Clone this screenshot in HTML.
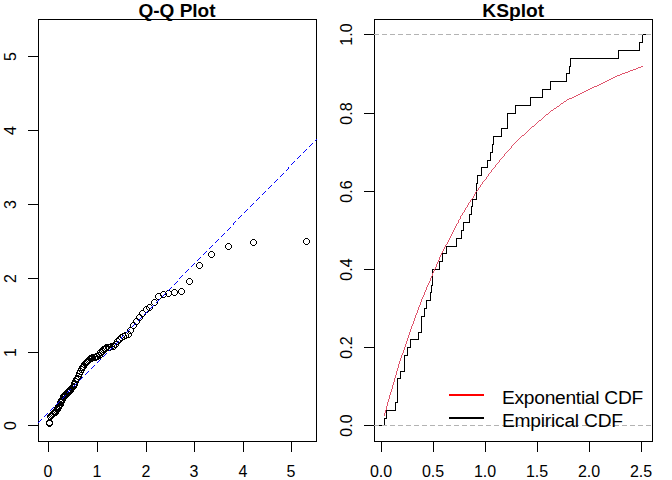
<!DOCTYPE html>
<html><head><meta charset="utf-8"><title>Q-Q Plot / KSplot</title>
<style>html,body{margin:0;padding:0;background:#fff;}svg{display:block;}text{fill:#000;}</style>
</head><body>
<svg width="672" height="480" viewBox="0 0 672 480">
<rect width="672" height="480" fill="#fff"/>
<g shape-rendering="crispEdges">
<rect x="38.5" y="19.5" width="278.0" height="422.0" fill="none" stroke="#000" stroke-width="1"/>
<line x1="48.5" y1="441.5" x2="48.5" y2="451.5" stroke="#000" stroke-width="1" />
<text x="47.9" y="476.5" font-size="16" text-anchor="middle" font-family="Liberation Sans, Arial, sans-serif">0</text>
<line x1="97.5" y1="441.5" x2="97.5" y2="451.5" stroke="#000" stroke-width="1" />
<text x="96.9" y="476.5" font-size="16" text-anchor="middle" font-family="Liberation Sans, Arial, sans-serif">1</text>
<line x1="146.5" y1="441.5" x2="146.5" y2="451.5" stroke="#000" stroke-width="1" />
<text x="145.9" y="476.5" font-size="16" text-anchor="middle" font-family="Liberation Sans, Arial, sans-serif">2</text>
<line x1="194.5" y1="441.5" x2="194.5" y2="451.5" stroke="#000" stroke-width="1" />
<text x="193.9" y="476.5" font-size="16" text-anchor="middle" font-family="Liberation Sans, Arial, sans-serif">3</text>
<line x1="243.5" y1="441.5" x2="243.5" y2="451.5" stroke="#000" stroke-width="1" />
<text x="242.9" y="476.5" font-size="16" text-anchor="middle" font-family="Liberation Sans, Arial, sans-serif">4</text>
<line x1="291.5" y1="441.5" x2="291.5" y2="451.5" stroke="#000" stroke-width="1" />
<text x="290.9" y="476.5" font-size="16" text-anchor="middle" font-family="Liberation Sans, Arial, sans-serif">5</text>
<line x1="28" y1="425.5" x2="38.5" y2="425.5" stroke="#000" stroke-width="1" />
<text transform="translate(15.5,425.5) rotate(-90)" font-size="16" text-anchor="middle" font-family="Liberation Sans, Arial, sans-serif">0</text>
<line x1="28" y1="352.5" x2="38.5" y2="352.5" stroke="#000" stroke-width="1" />
<text transform="translate(15.5,352.5) rotate(-90)" font-size="16" text-anchor="middle" font-family="Liberation Sans, Arial, sans-serif">1</text>
<line x1="28" y1="278.5" x2="38.5" y2="278.5" stroke="#000" stroke-width="1" />
<text transform="translate(15.5,278.5) rotate(-90)" font-size="16" text-anchor="middle" font-family="Liberation Sans, Arial, sans-serif">2</text>
<line x1="28" y1="204.5" x2="38.5" y2="204.5" stroke="#000" stroke-width="1" />
<text transform="translate(15.5,204.5) rotate(-90)" font-size="16" text-anchor="middle" font-family="Liberation Sans, Arial, sans-serif">3</text>
<line x1="28" y1="130.5" x2="38.5" y2="130.5" stroke="#000" stroke-width="1" />
<text transform="translate(15.5,130.5) rotate(-90)" font-size="16" text-anchor="middle" font-family="Liberation Sans, Arial, sans-serif">4</text>
<line x1="28" y1="56.5" x2="38.5" y2="56.5" stroke="#000" stroke-width="1" />
<text transform="translate(15.5,56.5) rotate(-90)" font-size="16" text-anchor="middle" font-family="Liberation Sans, Arial, sans-serif">5</text>
<text x="177" y="17.2" font-size="19" font-weight="bold" text-anchor="middle" font-family="Liberation Sans, Arial, sans-serif">Q-Q Plot</text>
<defs><path id="c" d="M-1.5-3.5h3v1h-3z M-1.5 2.5h3v1h-3z M-3.5-1.5h1v3h-1z M2.5-1.5h1v3h-1z M-2.5-2.5h1v1h-1z M1.5-2.5h1v1h-1z M-2.5 1.5h1v1h-1z M1.5 1.5h1v1h-1z"/></defs>
<g fill="#000" stroke="none">
<use href="#c" x="49.5" y="423.5"/>
<use href="#c" x="49.5" y="422.5"/>
<use href="#c" x="50.5" y="416.5"/>
<use href="#c" x="50.5" y="416.5"/>
<use href="#c" x="51.5" y="415.5"/>
<use href="#c" x="51.5" y="415.5"/>
<use href="#c" x="52.5" y="414.5"/>
<use href="#c" x="52.5" y="414.5"/>
<use href="#c" x="53.5" y="413.5"/>
<use href="#c" x="53.5" y="413.5"/>
<use href="#c" x="54.5" y="412.5"/>
<use href="#c" x="54.5" y="412.5"/>
<use href="#c" x="55.5" y="412.5"/>
<use href="#c" x="55.5" y="411.5"/>
<use href="#c" x="56.5" y="410.5"/>
<use href="#c" x="57.5" y="409.5"/>
<use href="#c" x="57.5" y="408.5"/>
<use href="#c" x="58.5" y="407.5"/>
<use href="#c" x="58.5" y="406.5"/>
<use href="#c" x="59.5" y="405.5"/>
<use href="#c" x="60.5" y="404.5"/>
<use href="#c" x="60.5" y="402.5"/>
<use href="#c" x="61.5" y="401.5"/>
<use href="#c" x="61.5" y="400.5"/>
<use href="#c" x="62.5" y="399.5"/>
<use href="#c" x="63.5" y="397.5"/>
<use href="#c" x="63.5" y="396.5"/>
<use href="#c" x="64.5" y="395.5"/>
<use href="#c" x="65.5" y="395.5"/>
<use href="#c" x="65.5" y="394.5"/>
<use href="#c" x="66.5" y="393.5"/>
<use href="#c" x="67.5" y="392.5"/>
<use href="#c" x="68.5" y="392.5"/>
<use href="#c" x="68.5" y="391.5"/>
<use href="#c" x="69.5" y="391.5"/>
<use href="#c" x="70.5" y="390.5"/>
<use href="#c" x="70.5" y="389.5"/>
<use href="#c" x="71.5" y="388.5"/>
<use href="#c" x="72.5" y="387.5"/>
<use href="#c" x="73.5" y="386.5"/>
<use href="#c" x="74.5" y="384.5"/>
<use href="#c" x="74.5" y="383.5"/>
<use href="#c" x="75.5" y="381.5"/>
<use href="#c" x="76.5" y="379.5"/>
<use href="#c" x="77.5" y="378.5"/>
<use href="#c" x="78.5" y="376.5"/>
<use href="#c" x="79.5" y="373.5"/>
<use href="#c" x="80.5" y="371.5"/>
<use href="#c" x="81.5" y="369.5"/>
<use href="#c" x="82.5" y="367.5"/>
<use href="#c" x="83.5" y="366.5"/>
<use href="#c" x="84.5" y="364.5"/>
<use href="#c" x="85.5" y="363.5"/>
<use href="#c" x="86.5" y="362.5"/>
<use href="#c" x="87.5" y="361.5"/>
<use href="#c" x="88.5" y="360.5"/>
<use href="#c" x="89.5" y="359.5"/>
<use href="#c" x="90.5" y="358.5"/>
<use href="#c" x="91.5" y="358.5"/>
<use href="#c" x="92.5" y="357.5"/>
<use href="#c" x="94.5" y="357.5"/>
<use href="#c" x="95.5" y="357.5"/>
<use href="#c" x="96.5" y="356.5"/>
<use href="#c" x="97.5" y="356.5"/>
<use href="#c" x="99.5" y="355.5"/>
<use href="#c" x="100.5" y="352.5"/>
<use href="#c" x="102.5" y="351.5"/>
<use href="#c" x="103.5" y="349.5"/>
<use href="#c" x="105.5" y="348.5"/>
<use href="#c" x="106.5" y="347.5"/>
<use href="#c" x="108.5" y="347.5"/>
<use href="#c" x="109.5" y="347.5"/>
<use href="#c" x="111.5" y="346.5"/>
<use href="#c" x="113.5" y="346.5"/>
<use href="#c" x="115.5" y="344.5"/>
<use href="#c" x="117.5" y="341.5"/>
<use href="#c" x="119.5" y="339.5"/>
<use href="#c" x="121.5" y="337.5"/>
<use href="#c" x="123.5" y="336.5"/>
<use href="#c" x="125.5" y="335.5"/>
<use href="#c" x="128.5" y="334.5"/>
<use href="#c" x="130.5" y="330.5"/>
<use href="#c" x="133.5" y="325.5"/>
<use href="#c" x="136.5" y="321.5"/>
<use href="#c" x="139.5" y="317.5"/>
<use href="#c" x="142.5" y="313.5"/>
<use href="#c" x="146.5" y="309.5"/>
<use href="#c" x="149.5" y="307.5"/>
<use href="#c" x="154.5" y="302.5"/>
<use href="#c" x="158.5" y="296.5"/>
<use href="#c" x="163.5" y="294.5"/>
<use href="#c" x="168.5" y="293.5"/>
<use href="#c" x="174.5" y="292.5"/>
<use href="#c" x="181.5" y="291.5"/>
<use href="#c" x="189.5" y="281.5"/>
<use href="#c" x="199.5" y="265.5"/>
<use href="#c" x="211.5" y="254.5"/>
<use href="#c" x="228.5" y="246.5"/>
<use href="#c" x="253.5" y="242.5"/>
<use href="#c" x="306.5" y="241.5"/>
</g>
<path fill="#0000FF" d="M38 422h1v1h-1zM39 421h1v1h-1zM40 420h1v1h-1zM41 419h1v1h-1zM44 416h1v1h-1zM45 415h1v1h-1zM46 414h1v1h-1zM47 413h1v1h-1zM50 410h1v1h-1zM51 409h1v1h-1zM52 408h1v1h-1zM53 407h1v1h-1zM56 404h1v1h-1zM57 403h1v1h-1zM58 402h1v1h-1zM59 401h1v1h-1zM62 398h1v1h-1zM63 397h1v1h-1zM64 396h1v1h-1zM65 395h1v1h-1zM67 392h1v1h-1zM68 391h1v1h-1zM69 390h1v1h-1zM70 389h1v1h-1zM73 386h1v1h-1zM74 385h1v1h-1zM75 384h1v1h-1zM76 383h1v1h-1zM79 380h1v1h-1zM80 379h1v1h-1zM81 378h1v1h-1zM82 377h1v1h-1zM85 374h1v1h-1zM86 373h1v1h-1zM87 372h1v1h-1zM88 371h1v1h-1zM91 368h1v1h-1zM92 367h1v1h-1zM93 366h1v1h-1zM94 365h1v1h-1zM97 362h1v1h-1zM98 361h1v1h-1zM99 360h1v1h-1zM100 359h1v1h-1zM103 356h1v1h-1zM104 355h1v1h-1zM105 354h1v1h-1zM106 353h1v1h-1zM109 350h1v1h-1zM110 349h1v1h-1zM111 348h1v1h-1zM112 347h1v1h-1zM115 344h1v1h-1zM116 343h1v1h-1zM117 342h1v1h-1zM118 341h1v1h-1zM121 338h1v1h-1zM121 337h1v1h-1zM122 336h1v1h-1zM123 335h1v1h-1zM126 332h1v1h-1zM127 331h1v1h-1zM128 330h1v1h-1zM129 329h1v1h-1zM132 326h1v1h-1zM133 325h1v1h-1zM134 324h1v1h-1zM135 323h1v1h-1zM138 320h1v1h-1zM139 319h1v1h-1zM140 318h1v1h-1zM141 317h1v1h-1zM144 314h1v1h-1zM145 313h1v1h-1zM146 312h1v1h-1zM147 311h1v1h-1zM150 308h1v1h-1zM151 307h1v1h-1zM152 306h1v1h-1zM153 305h1v1h-1zM156 302h1v1h-1zM157 301h1v1h-1zM158 300h1v1h-1zM159 299h1v1h-1zM162 296h1v1h-1zM163 295h1v1h-1zM164 294h1v1h-1zM165 293h1v1h-1zM168 290h1v1h-1zM169 289h1v1h-1zM170 288h1v1h-1zM171 287h1v1h-1zM174 284h1v1h-1zM175 283h1v1h-1zM176 282h1v1h-1zM177 281h1v1h-1zM179 278h1v1h-1zM180 277h1v1h-1zM181 276h1v1h-1zM182 275h1v1h-1zM185 272h1v1h-1zM186 271h1v1h-1zM187 270h1v1h-1zM188 269h1v1h-1zM191 266h1v1h-1zM192 265h1v1h-1zM193 264h1v1h-1zM194 263h1v1h-1zM197 260h1v1h-1zM198 259h1v1h-1zM199 258h1v1h-1zM200 257h1v1h-1zM203 254h1v1h-1zM204 253h1v1h-1zM205 252h1v1h-1zM206 251h1v1h-1zM209 248h1v1h-1zM210 247h1v1h-1zM211 246h1v1h-1zM212 245h1v1h-1zM215 242h1v1h-1zM216 241h1v1h-1zM217 240h1v1h-1zM218 239h1v1h-1zM221 236h1v1h-1zM222 235h1v1h-1zM223 234h1v1h-1zM224 233h1v1h-1zM227 230h1v1h-1zM228 229h1v1h-1zM229 228h1v1h-1zM230 227h1v1h-1zM233 224h1v1h-1zM233 223h1v1h-1zM234 222h1v1h-1zM235 221h1v1h-1zM238 218h1v1h-1zM239 217h1v1h-1zM240 216h1v1h-1zM241 215h1v1h-1zM244 212h1v1h-1zM245 211h1v1h-1zM246 210h1v1h-1zM247 209h1v1h-1zM250 206h1v1h-1zM251 205h1v1h-1zM252 204h1v1h-1zM253 203h1v1h-1zM256 200h1v1h-1zM257 199h1v1h-1zM258 198h1v1h-1zM259 197h1v1h-1zM262 194h1v1h-1zM263 193h1v1h-1zM264 192h1v1h-1zM265 191h1v1h-1zM268 188h1v1h-1zM269 187h1v1h-1zM270 186h1v1h-1zM271 185h1v1h-1zM274 182h1v1h-1zM275 181h1v1h-1zM276 180h1v1h-1zM277 179h1v1h-1zM280 176h1v1h-1zM281 175h1v1h-1zM282 174h1v1h-1zM283 173h1v1h-1zM286 170h1v1h-1zM287 169h1v1h-1zM288 168h1v1h-1zM288 167h1v1h-1zM291 164h1v1h-1zM292 163h1v1h-1zM293 162h1v1h-1zM294 161h1v1h-1zM297 158h1v1h-1zM298 157h1v1h-1zM299 156h1v1h-1zM300 155h1v1h-1zM303 152h1v1h-1zM304 151h1v1h-1zM305 150h1v1h-1zM306 149h1v1h-1zM309 146h1v1h-1zM310 145h1v1h-1zM311 144h1v1h-1zM312 143h1v1h-1zM315 140h1v1h-1zM316 139h1v1h-1z"/>
<rect x="374.5" y="19.5" width="278.0" height="422.0" fill="none" stroke="#000" stroke-width="1"/>
<line x1="381.5" y1="441.5" x2="381.5" y2="451.5" stroke="#000" stroke-width="1" />
<text x="381.1" y="476.5" font-size="16" text-anchor="middle" font-family="Liberation Sans, Arial, sans-serif">0.0</text>
<line x1="433.5" y1="441.5" x2="433.5" y2="451.5" stroke="#000" stroke-width="1" />
<text x="433.1" y="476.5" font-size="16" text-anchor="middle" font-family="Liberation Sans, Arial, sans-serif">0.5</text>
<line x1="485.5" y1="441.5" x2="485.5" y2="451.5" stroke="#000" stroke-width="1" />
<text x="485.1" y="476.5" font-size="16" text-anchor="middle" font-family="Liberation Sans, Arial, sans-serif">1.0</text>
<line x1="537.5" y1="441.5" x2="537.5" y2="451.5" stroke="#000" stroke-width="1" />
<text x="537.1" y="476.5" font-size="16" text-anchor="middle" font-family="Liberation Sans, Arial, sans-serif">1.5</text>
<line x1="589.5" y1="441.5" x2="589.5" y2="451.5" stroke="#000" stroke-width="1" />
<text x="589.1" y="476.5" font-size="16" text-anchor="middle" font-family="Liberation Sans, Arial, sans-serif">2.0</text>
<line x1="641.5" y1="441.5" x2="641.5" y2="451.5" stroke="#000" stroke-width="1" />
<text x="641.1" y="476.5" font-size="16" text-anchor="middle" font-family="Liberation Sans, Arial, sans-serif">2.5</text>
<line x1="364" y1="425.5" x2="374.5" y2="425.5" stroke="#000" stroke-width="1" />
<text transform="translate(351.5,425.5) rotate(-90)" font-size="16" text-anchor="middle" font-family="Liberation Sans, Arial, sans-serif">0.0</text>
<line x1="364" y1="347.5" x2="374.5" y2="347.5" stroke="#000" stroke-width="1" />
<text transform="translate(351.5,347.5) rotate(-90)" font-size="16" text-anchor="middle" font-family="Liberation Sans, Arial, sans-serif">0.2</text>
<line x1="364" y1="269.5" x2="374.5" y2="269.5" stroke="#000" stroke-width="1" />
<text transform="translate(351.5,269.5) rotate(-90)" font-size="16" text-anchor="middle" font-family="Liberation Sans, Arial, sans-serif">0.4</text>
<line x1="364" y1="191.5" x2="374.5" y2="191.5" stroke="#000" stroke-width="1" />
<text transform="translate(351.5,191.5) rotate(-90)" font-size="16" text-anchor="middle" font-family="Liberation Sans, Arial, sans-serif">0.6</text>
<line x1="364" y1="113.5" x2="374.5" y2="113.5" stroke="#000" stroke-width="1" />
<text transform="translate(351.5,113.5) rotate(-90)" font-size="16" text-anchor="middle" font-family="Liberation Sans, Arial, sans-serif">0.8</text>
<line x1="364" y1="34.5" x2="374.5" y2="34.5" stroke="#000" stroke-width="1" />
<text transform="translate(351.5,34.5) rotate(-90)" font-size="16" text-anchor="middle" font-family="Liberation Sans, Arial, sans-serif">1.0</text>
<text x="513.2" y="17.2" font-size="19.2" font-weight="bold" text-anchor="middle" font-family="Liberation Sans, Arial, sans-serif">KSplot</text>
<polyline fill="none" stroke="#000" stroke-width="1" shape-rendering="crispEdges" points="379,425.5 384.5,425.5 384.5,418.5 386.5,418.5 386.5,410.5 395.5,410.5 395.5,402.5 397.5,402.5 397.5,378.5 400.5,378.5 400.5,371.5 404.5,371.5 404.5,355.5 407.5,355.5 407.5,347.5 410.5,347.5 410.5,339.5 418.5,339.5 418.5,332.5 421.5,332.5 421.5,316.5 424.5,316.5 424.5,308.5 426.5,308.5 426.5,300.5 430.5,300.5 430.5,292.5 431.5,292.5 431.5,285.5 432.5,285.5 432.5,269.5 439.5,269.5 439.5,261.5 442.5,261.5 442.5,253.5 446.5,253.5 446.5,246.5 456.5,246.5 456.5,238.5 461.5,238.5 461.5,230.5 463.5,230.5 463.5,222.5 469.5,222.5 469.5,214.5 471.5,214.5 471.5,206.5 472.5,206.5 472.5,199.5 476.5,199.5 476.5,183.5 477.5,183.5 477.5,175.5 481.5,175.5 481.5,167.5 487.5,167.5 487.5,160.5 490.5,160.5 490.5,152.5 492.5,152.5 492.5,144.5 493.5,144.5 493.5,136.5 501.5,136.5 501.5,128.5 507.5,128.5 507.5,113.5 515.5,113.5 515.5,105.5 530.5,105.5 530.5,97.5 542.5,97.5 542.5,89.5 550.5,89.5 550.5,81.5 566.5,81.5 566.5,73.5 569.5,73.5 569.5,66.5 570.5,66.5 570.5,58.5 618.5,58.5 618.5,50.5 639.5,50.5 639.5,42.5 642.5,42.5 642.5,34.5 646,34.5"/>
<path fill="#DF536B" d="M384 415h1v1h-1zM384 414h1v1h-1zM384 413h1v1h-1zM385 412h1v1h-1zM385 411h1v1h-1zM385 410h1v1h-1zM386 409h1v1h-1zM386 408h1v1h-1zM386 407h1v1h-1zM386 406h1v1h-1zM387 405h1v1h-1zM387 404h1v1h-1zM387 403h1v1h-1zM387 402h1v1h-1zM388 401h1v1h-1zM388 400h1v1h-1zM388 399h1v1h-1zM389 398h1v1h-1zM389 397h1v1h-1zM389 396h1v1h-1zM389 395h1v1h-1zM390 394h1v1h-1zM390 393h1v1h-1zM390 392h1v1h-1zM391 391h1v1h-1zM391 390h1v1h-1zM391 389h1v1h-1zM392 388h1v1h-1zM392 387h1v1h-1zM392 386h1v1h-1zM392 385h1v1h-1zM393 384h1v1h-1zM393 383h1v1h-1zM393 382h1v1h-1zM394 381h1v1h-1zM394 380h1v1h-1zM394 379h1v1h-1zM394 378h1v1h-1zM395 377h1v1h-1zM395 376h1v1h-1zM395 375h1v1h-1zM396 374h1v1h-1zM396 373h1v1h-1zM396 372h1v1h-1zM396 371h1v1h-1zM397 370h1v1h-1zM397 369h1v1h-1zM397 368h1v1h-1zM398 367h1v1h-1zM398 366h1v1h-1zM398 365h1v1h-1zM398 364h1v1h-1zM399 363h1v1h-1zM399 362h1v1h-1zM399 361h1v1h-1zM400 360h1v1h-1zM400 359h1v1h-1zM400 358h1v1h-1zM401 357h1v1h-1zM401 356h1v1h-1zM401 355h1v1h-1zM402 354h1v1h-1zM402 353h1v1h-1zM403 352h1v1h-1zM403 351h1v1h-1zM403 350h1v1h-1zM404 349h1v1h-1zM404 348h1v1h-1zM404 347h1v1h-1zM405 346h1v1h-1zM405 345h1v1h-1zM405 344h1v1h-1zM406 343h1v1h-1zM406 342h1v1h-1zM406 341h1v1h-1zM407 340h1v1h-1zM407 339h1v1h-1zM407 338h1v1h-1zM408 337h1v1h-1zM408 336h1v1h-1zM408 335h1v1h-1zM409 334h1v1h-1zM409 333h1v1h-1zM409 332h1v1h-1zM410 331h1v1h-1zM410 330h1v1h-1zM410 329h1v1h-1zM411 328h1v1h-1zM411 327h1v1h-1zM411 326h1v1h-1zM412 325h1v1h-1zM412 324h1v1h-1zM413 323h1v1h-1zM413 322h1v1h-1zM413 321h1v1h-1zM414 320h1v1h-1zM414 319h1v1h-1zM414 318h1v1h-1zM415 317h1v1h-1zM415 316h1v1h-1zM415 315h1v1h-1zM416 314h1v1h-1zM416 313h1v1h-1zM417 312h1v1h-1zM417 311h1v1h-1zM417 310h1v1h-1zM418 309h1v1h-1zM418 308h1v1h-1zM418 307h1v1h-1zM419 306h1v1h-1zM419 305h1v1h-1zM420 304h1v1h-1zM420 303h1v1h-1zM420 302h1v1h-1zM421 301h1v1h-1zM421 300h1v1h-1zM421 299h1v1h-1zM422 298h1v1h-1zM422 297h1v1h-1zM423 296h1v1h-1zM423 295h1v1h-1zM424 294h1v1h-1zM424 293h1v1h-1zM424 292h1v1h-1zM425 291h1v1h-1zM425 290h1v1h-1zM426 289h1v1h-1zM426 288h1v1h-1zM426 287h1v1h-1zM427 286h1v1h-1zM427 285h1v1h-1zM428 284h1v1h-1zM428 283h1v1h-1zM429 282h1v1h-1zM429 281h1v1h-1zM430 280h1v1h-1zM430 279h1v1h-1zM430 278h1v1h-1zM431 277h1v1h-1zM431 276h1v1h-1zM432 275h1v1h-1zM432 274h1v1h-1zM432 273h1v1h-1zM433 272h1v1h-1zM433 271h1v1h-1zM434 270h1v1h-1zM434 269h1v1h-1zM435 268h1v1h-1zM435 267h1v1h-1zM436 266h1v1h-1zM436 265h1v1h-1zM436 264h1v1h-1zM437 263h1v1h-1zM437 262h1v1h-1zM438 261h1v1h-1zM438 260h1v1h-1zM439 259h1v1h-1zM439 258h1v1h-1zM439 257h1v1h-1zM440 256h1v1h-1zM440 255h1v1h-1zM441 254h1v1h-1zM441 253h1v1h-1zM442 252h1v1h-1zM442 251h1v1h-1zM443 250h1v1h-1zM443 249h1v1h-1zM444 248h1v1h-1zM444 247h1v1h-1zM445 246h1v1h-1zM445 245h1v1h-1zM446 244h1v1h-1zM447 243h1v1h-1zM447 242h1v1h-1zM448 241h1v1h-1zM448 240h1v1h-1zM449 239h1v1h-1zM449 238h1v1h-1zM450 237h1v1h-1zM450 236h1v1h-1zM451 235h1v1h-1zM451 234h1v1h-1zM452 233h1v1h-1zM452 232h1v1h-1zM453 231h1v1h-1zM453 230h1v1h-1zM454 229h1v1h-1zM454 228h1v1h-1zM455 227h1v1h-1zM455 226h1v1h-1zM456 225h1v1h-1zM456 224h1v1h-1zM457 223h1v1h-1zM458 222h1v1h-1zM458 221h1v1h-1zM458 220h1v1h-1zM459 219h1v1h-1zM460 218h1v1h-1zM460 217h1v1h-1zM460 216h1v1h-1zM461 215h1v1h-1zM462 214h1v1h-1zM462 213h1v1h-1zM463 212h1v1h-1zM464 211h1v1h-1zM464 210h1v1h-1zM465 209h1v1h-1zM465 208h1v1h-1zM466 207h1v1h-1zM467 206h1v1h-1zM467 205h1v1h-1zM468 204h1v1h-1zM468 203h1v1h-1zM469 202h1v1h-1zM470 201h1v1h-1zM470 200h1v1h-1zM471 199h1v1h-1zM472 198h1v1h-1zM473 197h1v1h-1zM473 196h1v1h-1zM474 195h1v1h-1zM474 194h1v1h-1zM475 193h1v1h-1zM475 192h1v1h-1zM476 191h1v1h-1zM477 190h1v1h-1zM478 189h1v1h-1zM478 188h1v1h-1zM479 187h1v1h-1zM480 186h1v1h-1zM480 185h1v1h-1zM481 184h1v1h-1zM482 183h1v1h-1zM482 182h1v1h-1zM483 181h1v1h-1zM484 180h1v1h-1zM485 179h1v1h-1zM486 178h1v1h-1zM486 177h1v1h-1zM487 176h1v1h-1zM488 175h1v1h-1zM488 174h1v1h-1zM489 173h1v1h-1zM490 172h1v1h-1zM491 171h1v1h-1zM491 170h1v1h-1zM492 169h1v1h-1zM493 168h1v1h-1zM494 167h1v1h-1zM495 166h1v1h-1zM495 165h1v1h-1zM496 164h1v1h-1zM497 163h1v1h-1zM498 162h1v1h-1zM499 161h1v1h-1zM499 160h1v1h-1zM500 159h1v1h-1zM501 158h1v1h-1zM502 157h1v1h-1zM503 156h1v1h-1zM504 155h1v1h-1zM504 154h1v1h-1zM505 153h1v1h-1zM506 152h1v1h-1zM507 151h1v1h-1zM508 150h1v1h-1zM509 149h1v1h-1zM510 148h1v1h-1zM511 147h1v1h-1zM511 146h1v1h-1zM512 145h1v1h-1zM513 144h1v1h-1zM514 143h1v1h-1zM515 142h1v1h-1zM516 141h1v1h-1zM517 140h1v1h-1zM518 139h1v1h-1zM519 138h1v1h-1zM520 137h1v1h-1zM521 136h1v1h-1zM522 135h1v1h-1zM523 135h1v1h-1zM524 134h1v1h-1zM525 133h1v1h-1zM526 132h1v1h-1zM527 131h1v1h-1zM528 130h1v1h-1zM529 129h1v1h-1zM530 128h1v1h-1zM531 127h1v1h-1zM532 126h1v1h-1zM533 126h1v1h-1zM534 125h1v1h-1zM535 124h1v1h-1zM536 123h1v1h-1zM537 122h1v1h-1zM538 121h1v1h-1zM539 120h1v1h-1zM540 120h1v1h-1zM541 119h1v1h-1zM542 118h1v1h-1zM543 117h1v1h-1zM544 116h1v1h-1zM545 115h1v1h-1zM546 114h1v1h-1zM547 114h1v1h-1zM548 113h1v1h-1zM549 112h1v1h-1zM550 111h1v1h-1zM551 110h1v1h-1zM552 110h1v1h-1zM553 109h1v1h-1zM554 108h1v1h-1zM555 108h1v1h-1zM556 107h1v1h-1zM557 106h1v1h-1zM558 106h1v1h-1zM559 105h1v1h-1zM560 104h1v1h-1zM561 103h1v1h-1zM562 103h1v1h-1zM563 102h1v1h-1zM564 101h1v1h-1zM565 101h1v1h-1zM566 100h1v1h-1zM567 99h1v1h-1zM568 99h1v1h-1zM569 98h1v1h-1zM570 98h1v1h-1zM571 98h1v1h-1zM572 97h1v1h-1zM573 97h1v1h-1zM574 96h1v1h-1zM575 96h1v1h-1zM576 95h1v1h-1zM577 95h1v1h-1zM578 94h1v1h-1zM579 94h1v1h-1zM580 93h1v1h-1zM581 93h1v1h-1zM582 92h1v1h-1zM583 92h1v1h-1zM584 91h1v1h-1zM585 91h1v1h-1zM586 90h1v1h-1zM587 90h1v1h-1zM588 89h1v1h-1zM589 89h1v1h-1zM590 88h1v1h-1zM591 88h1v1h-1zM592 87h1v1h-1zM593 87h1v1h-1zM594 86h1v1h-1zM595 86h1v1h-1zM596 86h1v1h-1zM597 85h1v1h-1zM598 85h1v1h-1zM599 84h1v1h-1zM600 84h1v1h-1zM601 83h1v1h-1zM602 83h1v1h-1zM603 82h1v1h-1zM604 82h1v1h-1zM605 81h1v1h-1zM606 81h1v1h-1zM607 80h1v1h-1zM608 80h1v1h-1zM609 79h1v1h-1zM610 79h1v1h-1zM611 78h1v1h-1zM612 78h1v1h-1zM613 77h1v1h-1zM614 77h1v1h-1zM615 76h1v1h-1zM616 76h1v1h-1zM617 75h1v1h-1zM618 75h1v1h-1zM619 75h1v1h-1zM620 74h1v1h-1zM621 74h1v1h-1zM622 73h1v1h-1zM623 73h1v1h-1zM624 73h1v1h-1zM625 72h1v1h-1zM626 72h1v1h-1zM627 72h1v1h-1zM628 71h1v1h-1zM629 71h1v1h-1zM630 70h1v1h-1zM631 70h1v1h-1zM632 70h1v1h-1zM633 69h1v1h-1zM634 69h1v1h-1zM635 69h1v1h-1zM636 68h1v1h-1zM637 68h1v1h-1zM638 67h1v1h-1zM639 67h1v1h-1zM640 67h1v1h-1zM641 66h1v1h-1zM642 66h1v1h-1z"/>
<line x1="374" y1="425.5" x2="652" y2="425.5" stroke="#B3B3B3" stroke-width="1" stroke-dasharray="5,3" shape-rendering="crispEdges"/>
<line x1="374" y1="34.5" x2="652" y2="34.5" stroke="#B3B3B3" stroke-width="1" stroke-dasharray="5,3" shape-rendering="crispEdges"/>
<line x1="448.5" y1="395" x2="483.5" y2="395" stroke="#FF0000" stroke-width="2" />
<line x1="448.5" y1="417.5" x2="483.5" y2="417.5" stroke="#000" stroke-width="2" />
<text x="502" y="403.75" font-size="19.2" textLength="141.2" lengthAdjust="spacing" font-family="Liberation Sans, Arial, sans-serif">Exponential CDF</text>
<text x="502" y="426.75" font-size="19.2" textLength="121" lengthAdjust="spacing" font-family="Liberation Sans, Arial, sans-serif">Empirical CDF</text>
</g></svg>
</body></html>
